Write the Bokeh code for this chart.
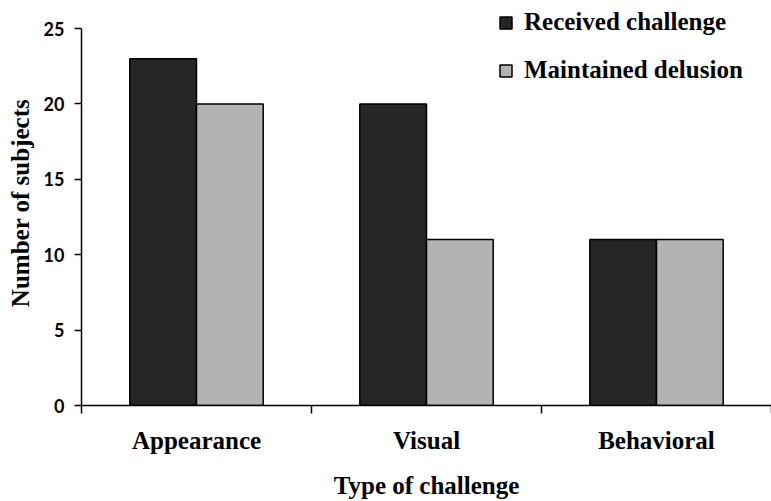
from bokeh.plotting import figure
from bokeh.models import FixedTicker, Legend, LegendItem, Range1d, ColumnDataSource
from bokeh.embed import file_html
from bokeh.resources import INLINE

categories = ["Appearance", "Visual", "Behavioral"]
received = [23, 20, 11]
maintained = [20, 11, 11]
series_names = ["Received challenge", "Maintained delusion"]
y_ticks = [0, 5, 10, 15, 20, 25]

colors = ["#262626", "#b3b3b3"]
bar_w = 0.29
centers = [i + 0.5 for i in range(len(categories))]

# frame spans the full top so the legend is not clipped; axis line stops at 25
y_max = 25
y_top = y_max * 405 / 377

p = figure(width=771, height=501, output_backend="svg", toolbar_location=None,
           x_range=Range1d(0, len(categories)), y_range=Range1d(0, y_top),
           min_border_left=81, min_border_right=0, min_border_top=0, min_border_bottom=96)
p.outline_line_color = None
p.xgrid.visible = False
p.ygrid.visible = False
p.background_fill_color = "white"

src1 = ColumnDataSource(dict(x=[c - bar_w / 2 for c in centers], top=received))
src2 = ColumnDataSource(dict(x=[c + bar_w / 2 for c in centers], top=maintained))
r1 = p.vbar(x="x", top="top", width=bar_w, source=src1, fill_color=colors[0],
            line_color="black", line_width=1.5)
r2 = p.vbar(x="x", top="top", width=bar_w, source=src2, fill_color=colors[1],
            line_color="black", line_width=1.5)

serif = "Liberation Serif"

xa = p.xaxis[0]
xa.ticker = FixedTicker(ticks=centers, minor_ticks=list(range(len(categories) + 1)))
xa.major_label_overrides = {c: n for c, n in zip(centers, categories)}
xa.major_tick_line_color = None
xa.major_tick_out = 0
xa.major_tick_in = 0
xa.minor_tick_out = 8
xa.minor_tick_in = 0
xa.minor_tick_line_width = 1.5
xa.minor_tick_line_color = "black"
xa.axis_line_width = 1.5
xa.axis_line_color = "black"
xa.major_label_text_font = serif
xa.major_label_text_font_style = "bold"
xa.major_label_text_font_size = "25px"
xa.major_label_text_color = "black"
xa.major_label_standoff = 13
xa.axis_label = "Type of challenge"
xa.axis_label_text_font = serif
xa.axis_label_text_font_style = "bold"
xa.axis_label_text_font_size = "25px"
xa.axis_label_text_color = "black"
xa.axis_label_standoff = 15

ya = p.yaxis[0]
ya.ticker = FixedTicker(ticks=y_ticks, minor_ticks=[])
ya.bounds = (0, y_max)
ya.major_tick_out = 7
ya.major_tick_in = 0
ya.major_tick_line_width = 1.5
ya.axis_line_width = 1.5
ya.axis_line_color = "black"
ya.major_tick_line_color = "black"
ya.major_label_text_font = "Lato"
ya.major_label_text_font_style = "bold"
ya.major_label_text_font_size = "18px"
ya.major_label_text_color = "black"
ya.major_label_standoff = 10
ya.axis_label = "Number of subjects"
ya.axis_label_text_font = serif
ya.axis_label_text_font_style = "bold"
ya.axis_label_text_font_size = "25px"
ya.axis_label_text_color = "black"
ya.axis_label_standoff = 7

legend = Legend(items=[LegendItem(label=series_names[0], renderers=[r1]),
                       LegendItem(label=series_names[1], renderers=[r2])],
                location=(417, 321))
legend.border_line_color = None
legend.background_fill_alpha = 0
legend.padding = 0
legend.margin = 0
legend.glyph_width = 15
legend.glyph_height = 15
legend.label_height = 20
legend.spacing = 20
legend.label_standoff = 11
legend.label_text_font = serif
legend.label_text_font_style = "bold"
legend.label_text_font_size = "25px"
legend.label_text_color = "black"
p.add_layout(legend, "center")

open("out.html", "w").write(file_html(p, INLINE))
